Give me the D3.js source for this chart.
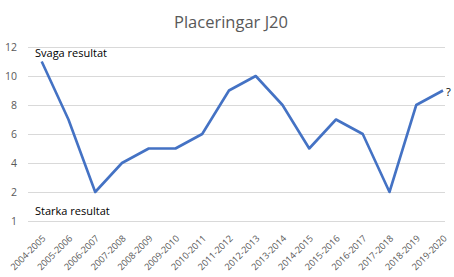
<!DOCTYPE html>
<html><head><meta charset="utf-8">
<script src="https://cdn.jsdelivr.net/npm/d3@7"></script>
<style>body{margin:0;background:#fff;}svg{display:block;font-family:"Open Sans",sans-serif;}</style>
</head><body>
<svg id="c" width="454" height="277"></svg>
<script>
const categories = ["2004-2005","2005-2006","2006-2007","2007-2008","2008-2009","2009-2010","2010-2011","2011-2012","2012-2013","2013-2014","2014-2015","2015-2016","2016-2017","2017-2018","2018-2019","2019-2020"];
const placings = [11,7,2,4,5,5,6,9,10,8,5,7,6,2,8,9];
const tickValues = [0,2,4,6,8,10,12];
const tickLabels = ["1","2","4","6","8","10","12"];
const title = "Placeringar J20";
const topNote = "Svaga resultat";
const bottomNote = "Starka resultat";
const lastNote = "?";

const svg = d3.select("#c");
const gridLeft = 28, gridRight = 445;
const x = d3.scalePoint().domain(categories).range([41.7, 443]);
const y = d3.scaleLinear().domain([0,12]).range([221, 47]);

svg.append("text").attr("x",231).attr("y",28).attr("text-anchor","middle")
  .attr("font-size",16.5).attr("fill","#595959").text(title);

// gridlines
svg.append("g").selectAll("line").data(tickValues).join("line")
  .attr("x1",gridLeft).attr("x2",gridRight)
  .attr("y1",d=>y(d)+0.5).attr("y2",d=>y(d)+0.5)
  .attr("stroke","#d9d9d9").attr("stroke-width",1);

// y axis labels
const yAxis = d3.axisLeft(y).tickValues(tickValues).tickSize(0).tickPadding(0)
  .tickFormat((d,i)=>tickLabels[i]);
const gy = svg.append("g").attr("transform","translate(17,0)").call(yAxis);
gy.select(".domain").remove();
gy.selectAll("text").attr("font-size",10.5).attr("fill","#595959").attr("font-family","'Open Sans',sans-serif");

// x axis labels
const xAxis = d3.axisBottom(x).tickSize(0).tickPadding(0);
const gx = svg.append("g").attr("transform","translate(0,221)").call(xAxis);
gx.select(".domain").remove();
gx.selectAll("text").attr("font-size",9.2).attr("fill","#595959").attr("font-family","'Open Sans',sans-serif")
  .attr("text-anchor","end").attr("dy",null).attr("y",0)
  .attr("transform","translate(4,18) rotate(-45)");

// line
svg.append("path").datum(placings.map((v,i)=>[categories[i],v]))
  .attr("fill","none").attr("stroke","#4472C4").attr("stroke-width",2.6)
  .attr("stroke-linejoin","round")
  .attr("d", d3.line().x(d=>x(d[0])).y(d=>y(d[1])));

svg.append("text").attr("x",35).attr("y",57).attr("font-size",11).attr("fill","#000").text(topNote);
svg.append("text").attr("x",35).attr("y",215).attr("font-size",11).attr("fill","#000").text(bottomNote);
svg.append("text").attr("x",x(categories[categories.length-1])+3).attr("y",y(placings[placings.length-1])+5)
  .attr("font-size",11).attr("fill","#000").text(lastNote);
</script>
</body></html>
